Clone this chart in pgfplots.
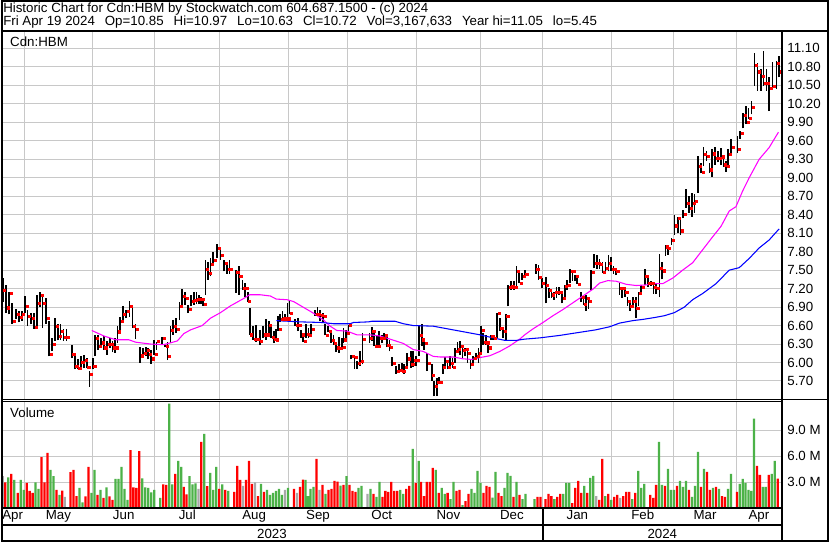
\documentclass[border=0pt]{standalone}
\usepackage{fontspec}
\setmainfont{Liberation Sans}
\usepackage{pgfplots}
\usepackage{pgfplotstable}
\pgfplotsset{compat=1.18}

\definecolor{upgreen}{RGB}{76,178,72}
\definecolor{dnred}{RGB}{255,0,0}
\definecolor{flat}{RGB}{168,168,168}
\definecolor{gridc}{RGB}{200,200,200}
\definecolor{maone}{RGB}{255,0,255}
\definecolor{matwo}{RGB}{0,0,255}

% x = horizontal position on the chart (one step = one pixel of the original), prices in CAD
\pgfplotstableread{
x hi lo cl
1.7 7.37 6.99 7.17
5.0 7.26 6.80 6.89
8.3 7.15 6.78 7.13
11.3 6.96 6.63 6.67
15.0 6.87 6.70 6.78
18.3 6.83 6.65 6.73
20.7 6.84 6.68 6.78
24.0 7.08 6.80 6.91
26.7 6.85 6.59 6.75
30.0 6.81 6.62 6.72
33.0 6.81 6.55 6.57
36.0 7.10 6.59 6.96
39.0 7.15 6.90 7.09
41.7 7.12 6.56 6.96
45.0 7.05 6.63 6.72
48.0 6.67 6.10 6.13
51.0 6.40 6.18 6.30
54.0 6.72 6.35 6.59
57.0 6.63 6.36 6.42
59.7 6.63 6.37 6.51
62.7 6.54 6.35 6.41
65.7 6.54 6.35 6.41
71.0 6.29 6.07 6.13
74.0 6.15 5.89 5.94
77.0 6.05 5.89 5.90
80.0 6.10 5.93 6.00
83.3 6.13 5.91 6.04
86.0 6.08 5.91 5.92
88.7 5.86 5.61 5.81
92.0 6.08 5.89 5.94
94.3 6.44 6.10 6.40
97.3 6.44 6.21 6.26
100.3 6.40 6.24 6.32
103.0 6.43 6.21 6.24
106.3 6.35 6.13 6.29
109.0 6.40 6.24 6.30
111.7 6.35 6.17 6.24
114.0 6.40 6.16 6.24
116.7 6.59 6.32 6.50
119.3 6.74 6.51 6.67
122.0 6.91 6.69 6.79
125.3 6.86 6.72 6.83
128.7 7.00 6.74 6.92
131.7 6.89 6.56 6.59
134.7 6.62 6.39 6.54
139.3 6.26 6.00 6.11
142.3 6.24 6.07 6.15
145.3 6.26 6.11 6.20
147.7 6.24 6.05 6.14
150.3 6.21 5.98 6.06
153.3 6.37 6.13 6.13
156.0 6.34 6.21 6.34
161.7 6.42 6.29 6.40
164.3 6.29 6.25 6.27
167.0 6.34 6.04 6.10
170.0 6.59 6.32 6.52
172.7 6.69 6.45 6.59
175.3 6.72 6.48 6.54
179.0 6.99 6.69 6.91
181.7 7.19 6.91 7.08
184.3 7.15 6.94 7.05
187.3 6.94 6.80 6.86
190.7 7.10 6.91 6.99
193.3 7.15 6.94 7.01
196.0 7.15 6.95 7.02
198.7 7.10 6.95 7.02
200.7 7.07 6.95 7.02
202.7 7.02 6.92 6.94
205.0 7.67 7.10 7.51
207.7 7.64 7.34 7.45
210.0 7.69 7.40 7.60
212.7 7.80 7.61 7.66
216.7 7.93 7.69 7.86
220.0 7.83 7.67 7.74
223.7 7.67 7.48 7.61
226.7 7.61 7.44 7.51
229.0 7.67 7.44 7.51
235.3 7.51 7.13 7.46
238.3 7.56 7.10 7.40
242.0 7.34 7.18 7.21
244.7 7.29 7.07 7.21
247.3 7.15 6.99 6.99
249.3 6.88 6.45 6.45
252.7 6.59 6.37 6.38
255.7 6.61 6.34 6.38
259.3 6.53 6.29 6.35
262.7 6.60 6.40 6.45
265.7 6.70 6.37 6.45
268.3 6.67 6.48 6.60
271.0 6.62 6.40 6.41
273.3 6.51 6.32 6.38
275.3 6.55 6.36 6.37
277.7 6.75 6.51 6.54
280.0 6.78 6.65 6.70
282.3 6.84 6.67 6.71
285.0 6.78 6.68 6.71
287.3 6.97 6.70 6.71
289.3 7.00 6.78 6.80
295.0 6.70 6.59 6.61
298.0 6.72 6.51 6.61
300.7 6.53 6.40 6.45
302.7 6.48 6.33 6.35
305.7 6.63 6.40 6.46
308.3 6.56 6.40 6.44
310.7 6.62 6.45 6.54
315.0 6.86 6.76 6.79
317.3 6.90 6.75 6.78
320.0 6.86 6.67 6.77
322.7 6.80 6.65 6.75
325.0 6.62 6.44 6.44
327.7 6.60 6.49 6.51
330.7 6.53 6.32 6.36
333.3 6.45 6.29 6.31
336.0 6.32 6.17 6.24
338.7 6.41 6.16 6.23
341.7 6.40 6.22 6.25
343.3 6.56 6.32 6.37
346.0 6.53 6.40 6.48
348.3 6.61 6.48 6.60
350.7 6.13 6.05 6.10
354.3 6.10 5.90 6.08
357.0 6.02 5.90 5.99
359.7 6.18 5.94 6.02
362.3 6.48 5.97 6.38
369.3 6.48 6.32 6.40
371.7 6.58 6.35 6.51
374.0 6.51 6.27 6.27
376.7 6.43 6.27 6.27
379.0 6.51 6.27 6.40
381.7 6.45 6.31 6.40
384.0 6.48 6.37 6.44
386.7 6.43 6.25 6.28
389.3 6.37 6.18 6.25
392.3 6.09 5.94 5.99
396.0 5.94 5.82 5.86
399.0 5.97 5.83 5.88
401.7 5.99 5.85 5.86
404.0 5.97 5.82 5.93
407.3 6.16 5.91 6.06
410.7 6.18 5.91 5.97
413.3 6.18 5.93 6.04
416.0 6.10 5.94 6.04
419.3 6.59 6.11 6.44
421.7 6.62 6.27 6.37
424.3 6.40 6.21 6.31
427.3 6.16 5.86 5.99
431.7 5.97 5.70 5.80
434.3 5.70 5.45 5.62
436.7 5.75 5.46 5.68
439.3 5.77 5.65 5.68
442.7 5.97 5.82 5.93
445.0 6.09 5.91 6.02
447.7 5.99 5.89 5.93
450.0 6.10 5.90 5.99
452.7 6.08 5.91 5.93
455.0 6.24 6.00 6.18
457.7 6.33 6.16 6.21
460.0 6.35 6.13 6.27
462.7 6.27 6.05 6.20
465.0 6.24 6.10 6.21
467.7 6.18 6.00 6.15
470.7 6.05 5.90 5.97
473.3 6.11 6.00 6.07
476.0 6.16 6.05 6.10
478.7 6.24 6.00 6.15
481.0 6.59 6.16 6.53
483.3 6.48 6.29 6.33
486.0 6.45 6.29 6.32
488.3 6.35 6.16 6.24
491.0 6.45 6.37 6.42
493.3 6.43 6.37 6.40
497.3 6.80 6.40 6.80
500.0 6.72 6.51 6.56
503.3 6.53 6.40 6.51
506.0 6.78 6.37 6.75
508.3 7.26 6.91 7.22
511.0 7.32 7.18 7.23
514.0 7.32 7.18 7.22
516.7 7.56 7.23 7.48
519.3 7.50 7.29 7.29
522.3 7.45 7.34 7.40
525.0 7.50 7.38 7.44
536.0 7.60 7.44 7.52
538.7 7.59 7.34 7.38
542.0 7.37 7.21 7.28
546.0 7.39 6.96 7.25
549.0 7.21 7.05 7.17
551.7 7.18 7.05 7.10
554.3 7.15 7.02 7.14
556.7 7.23 7.05 7.14
559.3 7.23 7.10 7.14
562.3 7.15 6.96 7.05
565.0 7.26 7.02 7.24
567.7 7.34 7.18 7.25
570.3 7.52 7.29 7.48
573.0 7.51 7.32 7.48
575.3 7.42 7.32 7.40
577.7 7.40 7.28 7.27
581.3 7.14 6.99 7.06
584.0 7.10 6.94 6.95
586.3 7.10 6.84 7.05
589.0 7.05 6.87 6.99
591.7 7.50 7.18 7.46
594.3 7.77 7.53 7.61
597.3 7.75 7.52 7.61
600.0 7.68 7.52 7.59
603.0 7.64 7.45 7.46
606.0 7.63 7.45 7.53
609.0 7.75 7.48 7.61
611.7 7.72 7.49 7.51
614.0 7.57 7.44 7.52
616.3 7.53 7.42 7.48
620.0 7.29 7.10 7.20
622.7 7.23 7.05 7.20
625.3 7.18 7.07 7.14
628.0 7.07 6.92 6.99
630.3 7.02 6.84 6.91
633.3 7.07 6.91 6.99
636.3 7.07 6.72 6.88
639.0 7.15 6.91 7.13
641.7 7.26 7.15 7.22
645.3 7.52 7.26 7.40
648.3 7.37 7.23 7.28
651.7 7.32 7.24 7.28
654.0 7.31 7.12 7.22
656.7 7.28 7.12 7.20
660.0 7.77 7.06 7.53
662.7 7.64 7.35 7.49
666.0 7.91 7.73 7.88
668.3 7.89 7.75 7.85
672.0 8.02 7.91 7.98
675.0 8.40 8.07 8.22
678.3 8.37 8.10 8.34
681.0 8.32 8.07 8.14
684.0 8.48 8.34 8.41
686.7 8.81 8.51 8.58
690.0 8.70 8.43 8.51
692.7 8.75 8.37 8.58
695.3 8.73 8.43 8.62
698.7 9.36 8.76 9.19
701.7 9.24 9.07 9.09
704.3 9.50 9.19 9.38
707.3 9.43 9.27 9.35
710.3 9.24 9.08 9.13
712.7 9.46 9.01 9.39
716.0 9.50 9.21 9.32
719.0 9.43 9.25 9.32
721.7 9.49 9.21 9.34
724.3 9.35 9.18 9.21
726.7 9.27 9.10 9.19
729.0 9.46 9.21 9.38
731.7 9.63 9.40 9.49
738.3 9.68 9.40 9.46
740.7 9.76 9.63 9.72
744.0 10.05 9.80 10.01
746.7 10.17 9.87 9.90
749.3 10.14 9.95 9.96
752.3 10.25 10.03 10.14
755.3 11.03 10.49 10.83
758.3 10.87 10.41 10.72
761.7 10.77 10.41 10.65
764.3 11.05 10.49 10.53
767.3 10.76 10.41 10.53
770.0 10.63 10.08 10.45
773.3 10.88 10.46 10.49
777.3 10.90 10.44 10.86
780.0 10.97 10.63 10.72
}\ohlc

% magenta moving average
\pgfplotstableread{
x y
91 6.52
103.3 6.43
115 6.37
128 6.37
135 6.33
150 6.30
163 6.29
170 6.32
176.7 6.35
183.3 6.47
190 6.53
201.7 6.60
210 6.72
220 6.81
230 6.92
236.7 6.98
243.3 7.04
249.3 7.10
260 7.10
270 7.08
276 7.03
286.7 7.02
293.3 6.99
301.7 6.91
313.3 6.80
323.3 6.69
330 6.59
336.7 6.52
346.7 6.51
356.7 6.45
370 6.45
380 6.43
390 6.38
403.3 6.31
413.3 6.21
423.3 6.18
433.3 6.10
440 6.09
453.3 6.09
463.3 6.06
471.7 6.05
480 6.08
490 6.11
500 6.18
510 6.27
520 6.38
525 6.45
532.7 6.54
543.3 6.65
553.3 6.76
563.3 6.86
573.3 6.97
583.3 7.08
593.3 7.19
600 7.29
608.3 7.33
616.7 7.32
626.7 7.27
636.7 7.25
646.7 7.26
655 7.28
663.3 7.28
673.3 7.37
683.3 7.50
693.3 7.62
703.3 7.83
713.3 8.04
721.7 8.21
730 8.46
736.7 8.53
743.3 8.78
750 9.00
760 9.30
770 9.49
779.3 9.74
}\maone

% blue moving average
\pgfplotstableread{
x y
276 6.68
300 6.66
321.7 6.65
333.3 6.63
350 6.63
353.3 6.65
368.3 6.66
371.7 6.67
395 6.67
403.3 6.63
413.3 6.60
433.3 6.59
443.3 6.56
453.3 6.53
466.7 6.49
480 6.45
493.3 6.40
505 6.36
516.7 6.36
525 6.38
540 6.40
560 6.44
580 6.49
596 6.53
610 6.58
620 6.64
633.3 6.68
643.3 6.70
655 6.73
665 6.76
675 6.81
685 6.90
693.3 7.02
703.3 7.12
716.7 7.28
730 7.50
740 7.54
750 7.69
760 7.86
770 7.99
780 8.17
}\matwo

% volume, millions
\pgfplotstableread{
x v
4.3 2.98
10.3 3.95
16.7 1.74
25.7 2.90
28.7 1.97
31.7 1.74
40.7 5.88
43.7 2.98
46.7 6.39
55.7 2.09
61.3 2.01
69.7 4.14
72.7 4.41
75.7 1.39
84.7 1.35
87.7 4.76
96.7 1.51
102.7 1.16
108.7 1.35
111.7 0.93
129.7 6.70
132.7 2.40
135.7 2.32
138.7 6.58
162.7 2.75
165.7 2.67
174.7 3.95
183.3 2.44
186.0 1.59
200.7 7.66
206.7 2.52
218.7 2.21
224.7 2.09
233.7 1.86
236.7 4.88
239.7 3.25
245.7 3.25
248.7 5.46
251.7 2.79
257.7 1.39
263.7 1.86
293.7 2.21
299.7 2.44
302.7 3.29
316.3 5.69
322.3 2.67
328.3 2.09
331.3 2.21
334.3 3.13
337.3 3.06
343.3 2.67
349.3 2.67
352.3 1.97
355.3 1.86
373.3 1.63
382.3 1.28
385.3 1.97
388.3 1.86
391.3 3.02
394.3 1.97
397.3 1.97
406.3 2.21
409.3 2.55
415.7 2.90
421.0 3.02
424.0 1.39
426.7 3.02
429.7 3.02
432.7 4.64
438.7 1.74
447.7 1.74
456.7 1.97
459.7 2.09
465.7 0.81
468.7 1.63
483.7 1.74
486.7 2.55
489.7 2.44
498.7 1.74
501.7 1.39
513.7 1.28
519.7 1.51
537.7 1.28
540.7 1.28
545.7 1.04
548.7 1.63
551.7 1.39
557.7 1.28
560.7 1.63
572.7 0.58
575.7 2.32
578.7 3.13
581.7 1.74
587.7 1.74
599.7 0.93
602.7 5.69
608.7 1.63
614.7 1.28
617.7 1.51
623.7 1.39
626.7 1.86
629.7 1.86
635.7 1.74
650.7 1.51
653.7 1.16
656.7 2.67
665.7 2.55
677.7 2.55
689.7 2.09
701.7 2.44
707.7 4.18
710.7 2.09
716.7 2.44
722.7 1.39
725.7 1.28
737.7 1.86
757.7 4.88
760.7 3.83
769.7 3.83
778.7 3.41
}\volred

\pgfplotstableread{
x v
7.3 3.56
13.3 3.25
19.7 3.25
22.7 2.09
34.7 2.98
37.7 2.21
49.7 4.41
52.7 3.68
58.7 1.51
78.7 2.32
81.7 0.66
90.7 1.74
93.7 4.41
99.7 2.09
105.7 2.40
114.7 3.37
117.7 3.37
120.7 4.76
123.7 2.21
126.7 0.93
141.7 3.44
144.7 2.40
147.7 2.32
150.7 1.82
153.7 2.09
159.7 1.16
168.7 12.07
171.7 2.75
177.7 5.46
180.7 4.76
189.0 3.68
192.0 2.75
195.0 2.86
203.7 8.59
209.7 4.06
212.7 2.09
215.7 4.76
221.7 2.75
227.7 1.97
260.7 2.79
266.7 2.09
269.7 1.51
272.7 1.74
275.7 1.97
278.7 2.21
281.7 1.51
287.7 2.32
305.3 3.25
307.7 1.39
310.3 2.21
313.3 2.44
325.3 1.63
340.3 2.59
346.3 3.68
358.3 2.32
361.3 2.55
370.3 2.21
376.3 1.28
379.3 3.02
400.3 2.09
403.3 1.63
412.7 6.85
418.7 5.46
435.7 4.41
441.7 2.32
444.7 1.63
450.7 1.04
453.7 3.02
462.7 0.35
471.7 2.21
474.7 1.74
477.7 4.30
480.7 2.90
492.7 1.20
495.7 4.18
504.7 2.32
507.7 4.06
510.7 3.72
516.7 3.02
522.7 1.04
525.7 1.63
534.7 1.04
554.7 1.04
563.7 1.63
566.7 2.90
569.7 2.90
584.7 2.55
590.7 3.48
593.7 3.72
605.7 1.39
611.7 0.93
632.7 1.04
638.7 4.30
641.7 2.32
644.7 2.79
659.7 7.66
662.7 2.67
668.7 4.53
671.7 2.09
674.7 2.09
680.7 3.13
683.7 2.44
686.7 3.13
692.7 1.28
695.7 2.55
698.7 6.50
704.7 4.53
713.7 2.32
719.7 2.21
728.7 2.21
731.7 3.95
740.6 2.79
743.5 3.37
746.4 2.90
749.3 2.09
752.0 1.97
754.8 10.33
763.7 2.44
766.7 2.44
772.7 3.95
775.7 5.46
}\volgreen

\pgfplotstableread{
x v
1.7 3.68
64.0 1.28
198.0 2.21
242.7 2.55
254.7 2.98
284.7 2.09
296.7 1.74
319.3 2.09
367.3 1.63
596.7 1.39
620.7 1.16
}\volgray

\pgfplotsset{
  panel/.style={
    scale only axis, width=586.5pt,
    xmin=0, xmax=782,
    axis line style={draw=none},
    major tick length=0pt,
    grid style={gridc, line width=0.75pt},
    tick label style={font=\fontsize{10}{12}\selectfont},
    yticklabel pos=right,
    yticklabel style={anchor=west, inner sep=0pt, xshift=4.5pt},
  },
}

\begin{document}
\fontsize{10}{12}\selectfont
\begin{tikzpicture}
\begin{scope}[x=0.75pt,y=-0.75pt]
\path[use as bounding box, fill=white] (0,0) rectangle (830,543);
\end{scope}

% price panel
\begin{axis}[panel,
  at={(0pt,-23.25pt)}, anchor=north west, height=276.75pt,
  ymin=5.403, ymax=11.38,
  xtick={23.3,91.7,154.3,219.3,288.3,347.3,416,481,543.3,612.3,674.3,737.3},
  xticklabels={},
  ytick={5.70,6.00,6.30,6.60,6.90,7.20,7.50,7.80,8.10,8.40,8.70,9.00,9.30,9.60,9.90,10.20,10.50,10.80,11.10},
  yticklabels={5.70,6.00,6.30,6.60,6.90,7.20,7.50,7.80,8.10,8.40,8.70,9.00,9.30,9.60,9.90,10.20,10.50,10.80,11.10},
  grid=major,
]
\addplot[draw=none, mark=none, forget plot,
  error bars/.cd, y dir=plus, y explicit, error mark=none,
  error bar style={draw=black, solid, line width=1.3pt}]
  table[x=x, y=lo, y error expr=\thisrow{hi}-\thisrow{lo}] {\ohlc};
\addplot[only marks, mark=square*, mark size=0.8pt, dnred,
  mark options={xshift=1.5pt, draw=dnred, fill=dnred}]
  table[x=x, y=cl] {\ohlc};
\addplot[maone, line width=0.8pt, mark=none] table[x=x, y=y] {\maone};
\addplot[matwo, line width=0.8pt, mark=none] table[x=x, y=y] {\matwo};
\end{axis}

% volume panel
\begin{axis}[panel,
  at={(0pt,-301.875pt)}, anchor=north west, height=79.875pt,
  ymin=0, ymax=12.29,
  xtick={11.7,57.5,123,186.8,253.8,317.8,381.7,448.5,512.2,577.8,643.3,705.8,759.7},
  xticklabels={Apr,May,Jun,Jul,Aug,Sep,Oct,Nov,Dec,Jan,Feb,Mar,Apr},
  xticklabel style={anchor=base, inner sep=0pt, yshift=-9pt},
  extra x ticks={23.3,91.7,154.3,219.3,288.3,347.3,416,481,543.3,612.3,674.3,737.3},
  extra x tick labels={},
  extra x tick style={xmajorgrids=true},
  ytick={3,6,9},
  yticklabels={3.0 M,6.0 M,9.0 M},
  ymajorgrids,
]
\addplot[ybar, bar width=1.7pt, bar shift=0pt, draw=none, fill=dnred] table[x=x, y=v] {\volred};
\addplot[ybar, bar width=1.7pt, bar shift=0pt, draw=none, fill=upgreen] table[x=x, y=v] {\volgreen};
\addplot[ybar, bar width=1.7pt, bar shift=0pt, draw=none, fill=flat] table[x=x, y=v] {\volgray};
\end{axis}

\begin{scope}[x=0.75pt,y=-0.75pt]
% frame and panel rules
\draw[line width=1.5pt] (0.75,0.75) rectangle (829.25,542.25);
\draw[line width=1.5pt] (0,30.5) -- (830,30.5);
\draw[line width=1.5pt] (782.5,30.5) -- (782.5,543);
\draw[line width=0.8pt] (0,400.3) -- (830,400.3);
\draw[line width=0.8pt] (0,402.5) -- (782.5,402.5);
\draw[line width=1.5pt] (0,509.3) -- (782.5,509.3);
\draw[line width=1.5pt] (0,526.2) -- (782.5,526.2);
\draw[line width=1pt] (543.3,509.3) -- (543.3,543);
% texts
\node[anchor=base west, inner sep=0pt] at (2,12.3)
  {Historic Chart for Cdn:HBM by Stockwatch.com 604.687.1500 - (c) 2024};
\node[anchor=base west, inner sep=0pt] at (2,25.3)
  {Fri Apr 19 2024\hspace{7.5pt}Op=10.85\hspace{7.5pt}Hi=10.97\hspace{7.5pt}Lo=10.63\hspace{7.5pt}Cl=10.72\hspace{7.5pt}Vol=3,167,633\hspace{7.5pt}Year hi=11.05\hspace{7.5pt}lo=5.45};
\node[anchor=base west, inner sep=0pt] at (9,46.3) {Cdn:HBM};
\node[anchor=base west, inner sep=0pt] at (9,418) {Volume};
\node[anchor=base, inner sep=0pt] at (271.6,539.5) {2023};
\node[anchor=base, inner sep=0pt] at (662.9,539.5) {2024};
\end{scope}
\end{tikzpicture}
\end{document}
